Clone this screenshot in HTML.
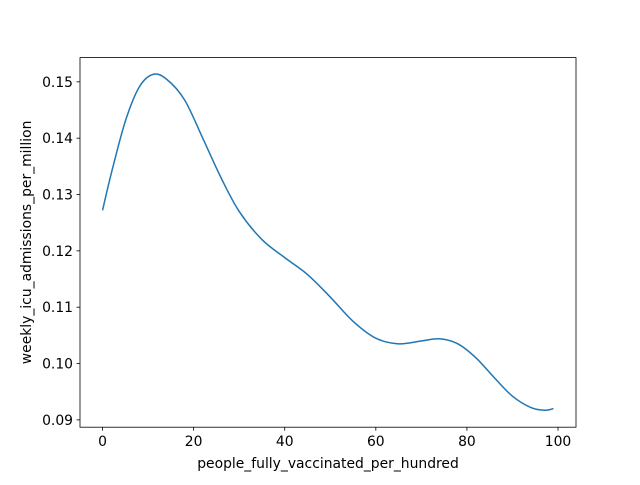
<!DOCTYPE html>
<html><head><meta charset="utf-8"><style>
body{margin:0;background:#fff;font-family:"Liberation Sans","DejaVu Sans",sans-serif}
text{font-family:"DejaVu Sans","Liberation Sans",sans-serif;font-size:13.9px;fill:#000}
</style></head><body>
<svg id="chart" width="640" height="480" xmlns="http://www.w3.org/2000/svg">
<rect width="640" height="480" fill="#fff"/>
<g id="plot"></g>
</svg>
<script>
const xValues=[0,2,5,8,11,14,18,22,26,30,35,40,45,50,55,60,65,70,74,78,82,86,90,94,97,99];
const yValues=[0.1272,0.134,0.143,0.149,0.1513,0.1505,0.1468,0.140,0.133,0.127,0.122,0.1188,0.1158,0.1118,0.1075,0.1045,0.1035,0.1040,0.1044,0.1035,0.1010,0.0975,0.0942,0.0922,0.0917,0.0920];
const xTicks=[0,20,40,60,80,100];
const yTicks=[0.09,0.10,0.11,0.12,0.13,0.14,0.15];
const L=80,R=576,T=57.6,B=427.2;
const xmin=-4.95,xmax=103.95,ymin=0.0887,ymax=0.1543;
const sx=v=>L+(v-xmin)/(xmax-xmin)*(R-L);
const sy=v=>B-(v-ymin)/(ymax-ymin)*(B-T);
const g=document.getElementById('plot');
const NS='http://www.w3.org/2000/svg';
function mk(t,a){const e=document.createElementNS(NS,t);for(const k in a)e.setAttribute(k,a[k]);g.appendChild(e);return e;}
const pts=xValues.map((x,i)=>[sx(x),sy(yValues[i])]);
let d='M'+pts[0][0]+','+pts[0][1];
for(let i=0;i<pts.length-1;i++){const p0=pts[Math.max(i-1,0)],p1=pts[i],p2=pts[i+1],p3=pts[Math.min(i+2,pts.length-1)];
d+=' C'+(p1[0]+(p2[0]-p0[0])/6)+','+(p1[1]+(p2[1]-p0[1])/6)+' '+(p2[0]-(p3[0]-p1[0])/6)+','+(p2[1]-(p3[1]-p1[1])/6)+' '+p2[0]+','+p2[1];}
const line=mk('path',{d:d,fill:'none',stroke:'#1f77b4','stroke-width':1.5});


xTicks.forEach(t=>{const x=sx(t);
const tk=mk('line',{x1:x,x2:x,y1:B,y2:B+3.5,stroke:'#000','stroke-width':0.8});


const lb=mk('text',{x:x,y:B+19,'text-anchor':'middle'});lb.textContent=t;

});
yTicks.forEach(t=>{const y=sy(t);
const tk=mk('line',{x1:L-3.5,x2:L,y1:y,y2:y,stroke:'#000','stroke-width':0.8});


const lb=mk('text',{x:L-7,y:y+5,'text-anchor':'end'});lb.textContent=t.toFixed(2);

});
const fr=mk('rect',{x:L,y:T,width:R-L,height:B-T,fill:'none',stroke:'#000','stroke-width':0.8});


const xl=mk('text',{x:(L+R)/2,y:468,'text-anchor':'middle'});xl.textContent='people_fully_vaccinated_per_hundred';


const yl=mk('text',{x:31,y:(T+B)/2,'text-anchor':'middle',transform:'rotate(-90 31 '+(T+B)/2+')'});yl.textContent='weekly_icu_admissions_per_million';


</script>
</body></html>
